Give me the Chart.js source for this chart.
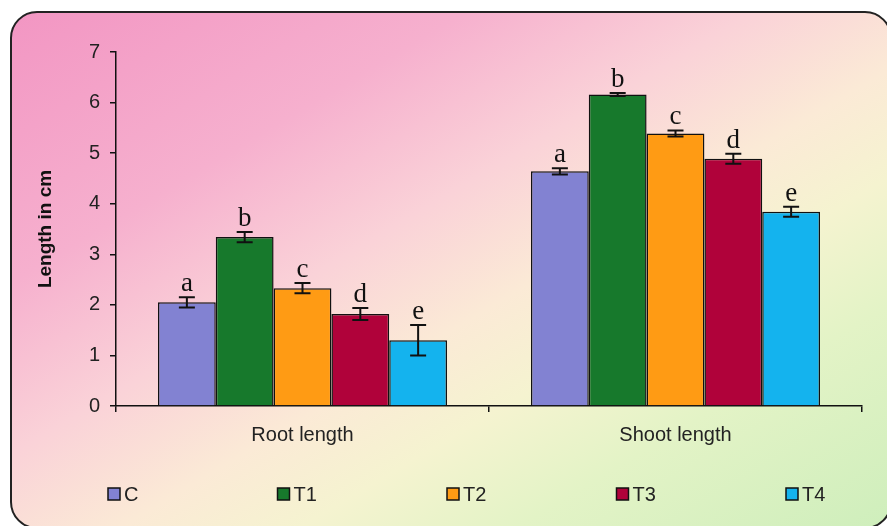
<!DOCTYPE html>
<html lang="en">
<head>
  <meta charset="UTF-8">
  <title>Root and shoot length</title>
  <script src="https://cdn.jsdelivr.net/npm/chart.js"></script>
  <style>
    html, body { margin: 0; padding: 0; background: #fff; }
    #wrap { width: 887px; height: 526px; }
  </style>
</head>
<body>
  <div id="wrap"><canvas id="lengthChart" width="887" height="526"></canvas></div>

  <script>
    // data
    const categories = ['Root length', 'Shoot length'];
    const seriesNames = ['C', 'T1', 'T2', 'T3', 'T4'];
    const seriesColors = ['#8282d2', '#17792c', '#ff9b14', '#b0023a', '#14b3ee'];
    const valuesC  = [2.05, 4.64];
    const valuesT1 = [3.34, 6.16];
    const valuesT2 = [2.33, 5.39];
    const valuesT3 = [1.82, 4.89];
    const valuesT4 = [1.30, 3.84];
    const errC  = [0.10, 0.06];
    const errT1 = [0.10, 0.03];
    const errT2 = [0.10, 0.06];
    const errT3 = [0.12, 0.10];
    const errT4 = [0.30, 0.10];
    const letters = ['a', 'b', 'c', 'd', 'e'];
    const yTicks = [0, 1, 2, 3, 4, 5, 6, 7];

    const allValues = [valuesC, valuesT1, valuesT2, valuesT3, valuesT4];
    const allErrors = [errC, errT1, errT2, errT3, errT4];

    const datasets = seriesNames.map((name, i) => ({
      label: name,
      data: allValues[i],
      errors: allErrors[i],
      letter: letters[i],
      backgroundColor: seriesColors[i],
      borderColor: '#111',
      borderWidth: 1.5,
      barPercentage: 1.0,
      categoryPercentage: 0.775
    }));

    // rounded gradient panel behind everything
    const panelBackground = {
      id: 'panelBackground',
      beforeDraw(chart) {
        const ctx = chart.ctx;
        ctx.save();
        ctx.fillStyle = '#ffffff';
        ctx.fillRect(0, 0, chart.width, chart.height);
        const g = ctx.createLinearGradient(0, 0, 470, 790);
        g.addColorStop(0, '#f294c2');
        g.addColorStop(0.27, '#f6b0ce');
        g.addColorStop(0.43, '#fad2d8');
        g.addColorStop(0.56, '#fbead6');
        g.addColorStop(0.66, '#f5f3d0');
        g.addColorStop(0.78, '#e3f3c6');
        g.addColorStop(1, '#cdeebb');
        ctx.beginPath();
        ctx.roundRect(11, 12, 880, 516, 26);
        ctx.fillStyle = g;
        ctx.fill();
        ctx.lineWidth = 2;
        ctx.strokeStyle = '#222';
        ctx.stroke();
        ctx.restore();
      }
    };

    // error bars and significance letters
    const errorBars = {
      id: 'errorBars',
      afterDatasetsDraw(chart) {
        const ctx = chart.ctx;
        const y = chart.scales.y;
        ctx.save();
        chart.data.datasets.forEach((ds, di) => {
          const meta = chart.getDatasetMeta(di);
          meta.data.forEach((bar, i) => {
            const v = ds.data[i], e = ds.errors[i];
            const top = y.getPixelForValue(v + e);
            const bot = y.getPixelForValue(v - e);
            ctx.strokeStyle = '#111';
            ctx.lineWidth = 2;
            ctx.beginPath();
            ctx.moveTo(bar.x, top); ctx.lineTo(bar.x, bot);
            ctx.moveTo(bar.x - 8, top); ctx.lineTo(bar.x + 8, top);
            ctx.moveTo(bar.x - 8, bot); ctx.lineTo(bar.x + 8, bot);
            ctx.stroke();
            ctx.fillStyle = '#111';
            ctx.font = '27px "Liberation Serif", "DejaVu Serif", serif';
            ctx.textAlign = 'center';
            ctx.textBaseline = 'alphabetic';
            ctx.fillText(ds.letter, bar.x, top - 6);
          });
        });
        ctx.restore();
      }
    };

    // legend spread across the bottom of the panel
    const bottomLegend = {
      id: 'bottomLegend',
      afterDraw(chart) {
        const ctx = chart.ctx;
        ctx.save();
        ctx.font = '20px "Liberation Sans", Arial, sans-serif';
        ctx.textBaseline = 'middle';
        ctx.textAlign = 'left';
        chart.data.datasets.forEach((ds, i) => {
          const x = 108 + i * 169.5;
          const yc = 494;
          ctx.fillStyle = ds.backgroundColor;
          ctx.fillRect(x, yc - 6, 12, 12);
          ctx.strokeStyle = '#111';
          ctx.lineWidth = 1.5;
          ctx.strokeRect(x, yc - 6, 12, 12);
          ctx.fillStyle = '#222';
          ctx.fillText(ds.label, x + 16, yc + 1);
        });
        ctx.restore();
      }
    };

    const ctx = document.getElementById('lengthChart').getContext('2d');
    const lengthChart = new Chart(ctx, {
      type: 'bar',
      data: { labels: categories, datasets: datasets },
      options: {
        responsive: false,
        animation: false,
        layout: { padding: { left: 0, right: 25, top: 52, bottom: 0 } },
        plugins: {
          legend: { display: false },
          tooltip: { enabled: false }
        },
        scales: {
          x: {
            grid: { drawOnChartArea: false, drawTicks: true, tickLength: 6, color: '#111', lineWidth: 1.5 },
            border: { color: '#111', width: 1.5 },
            ticks: {
              color: '#222',
              padding: 11,
              font: { family: '"Liberation Sans", Arial, sans-serif', size: 20 }
            },
            afterFit(scale) { scale.height = 120; }
          },
          y: {
            min: 0,
            max: 7,
            afterBuildTicks(scale) { scale.ticks = yTicks.map(v => ({ value: v })); },
            grid: { drawOnChartArea: false, drawTicks: true, tickLength: 6, color: '#111', lineWidth: 1.5 },
            border: { color: '#111', width: 1.5 },
            ticks: {
              color: '#222',
              padding: 10,
              font: { family: '"Liberation Sans", Arial, sans-serif', size: 20 }
            },
            title: {
              display: true,
              text: 'Length in cm',
              color: '#111',
              padding: { top: 34, bottom: 0 },
              font: { family: '"Liberation Sans", Arial, sans-serif', size: 19, weight: 'bold' }
            },
            afterFit(scale) { scale.width = 116; }
          }
        }
      },
      plugins: [panelBackground, errorBars, bottomLegend]
    });
  </script>
</body>
</html>
